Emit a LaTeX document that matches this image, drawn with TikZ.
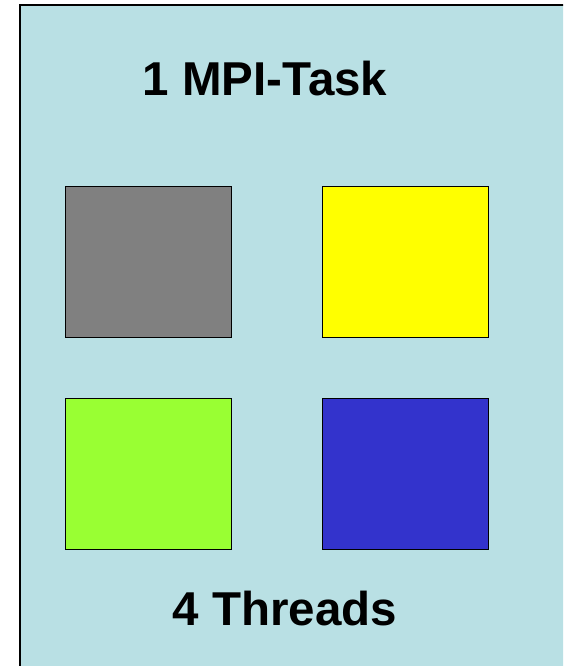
\documentclass[tikz,border=0pt]{standalone}
\usepackage{fontspec}
\setmainfont{Liberation Sans}
\usepackage{tikz}

\definecolor{taskbg}{RGB}{185,224,228}
\definecolor{thgray}{RGB}{128,128,128}
\definecolor{thyellow}{RGB}{255,255,0}
\definecolor{thgreen}{RGB}{153,255,51}
\definecolor{thblue}{RGB}{51,51,204}

\tikzset{
  thread/.style={draw=black,line width=1.3pt,minimum width=166pt,minimum height=151pt,inner sep=0pt},
  label/.style={font=\fontsize{47.5}{50}\selectfont\bfseries,anchor=base,inner sep=0pt}
}

\begin{document}
\begin{tikzpicture}[x=1pt,y=-1pt]
\useasboundingbox (0,0) rectangle (563,666);
\clip (0,0) rectangle (563,666);
\fill[taskbg] (20,5) rectangle (600,700);
\draw[line width=2pt] (20,720)--(20,5)--(600,5);
\node[label] (title) at (265,96) {1 MPI-Task};
\node[thread,fill=thgray] (t1) at (148.5,262) {};
\node[thread,fill=thyellow] (t2) at (405.5,262) {};
\node[thread,fill=thgreen] (t3) at (148.5,474) {};
\node[thread,fill=thblue] (t4) at (405.5,474) {};
\node[label] (foot) at (285,625) {4 Threads};
\end{tikzpicture}
\end{document}
